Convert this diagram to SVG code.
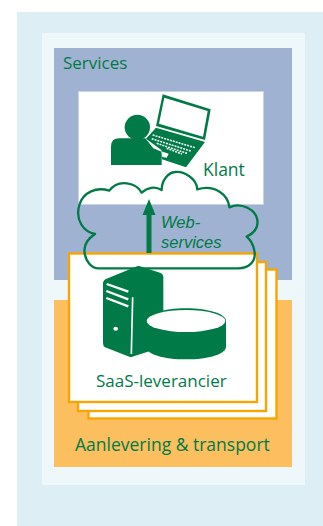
<svg xmlns="http://www.w3.org/2000/svg" width="323" height="526" viewBox="0 0 323 526">
<style>
text{font-family:"Open Sans","Noto Sans","Liberation Sans",sans-serif;fill:#007a47;font-size:17px}
.it{font-family:"Liberation Sans",Arial,sans-serif;font-size:16.500px;font-style:italic}
.card{fill:#fff;stroke:#f9a500;stroke-width:2.4}
.g{fill:#007a47}
.w{fill:#fff}
.k{fill:none;stroke:#fff;stroke-width:4.500;stroke-dasharray:6 3}
</style>
<rect width="323" height="526" fill="#fff"/>
<g id="background">
<rect x="17" y="12" width="306" height="514" fill="#ddeef5"/>
<rect x="42" y="33" width="263" height="452" fill="#eef7fa"/>
</g>
<g id="services">
<rect x="54" y="48" width="238" height="232" fill="#a0b2d2"/>
<text x="63" y="69">Services</text>
</g>
<g id="aanlevering">
<rect x="54" y="300" width="238" height="167" fill="#fbbf5f"/>
<text x="75" y="451" style="font-size:17.500px">Aanlevering &amp; transport</text>
</g>
<g id="klant">
<rect x="78.500" y="91.500" width="185" height="113" fill="#fff" stroke="#c9d3e6"/>
<g transform="translate(60 80) scale(.33333)">
<circle class="g" cx="232" cy="142" r="38"/>
<path class="g" d="M153 255V200Q153 175 178 175H256L280 205L305 215V255Z"/>
<path class="g" d="M308 43L452 88L435 180L288 138Z"/>
<path class="w" d="M313 53L443 93L429 170L297 131Z"/>
<path class="g" d="M288 143L435 186L378 262L306 238L304 210L258 176Z"/>
<path class="k" d="M278 165L405 203M275 176L392 213M290 190L381 220M320 205L366 222"/>
<path class="w" d="M304 214L326 221L320 233L307 231Z"/>
</g>
<text x="203" y="176" style="font-size:17.500px">Klant</text>
</g>
<g id="saas">
<rect class="card" x="88.500" y="269.500" width="188" height="149"/>
<rect class="card" x="78" y="262" width="188" height="149"/>
<rect class="card" x="69" y="253.500" width="188" height="148.500"/>
<g transform="translate(60 240) scale(.33333)">
<path class="g" d="M235 77L300 98Q310 102 310 112V320L212 352L135 322Q129 318 129 308V130Q129 122 136 118Z"/>
<path d="M140 132L205 155M139 153L205 178M139 174L205 199" stroke="#fff" stroke-width="7" fill="none"/>
<path d="M218 172L214 342" stroke="#fff" stroke-width="5" fill="none"/>
<ellipse class="w" cx="167" cy="266" rx="7" ry="6"/>
<path class="g" d="M258 243C258 222 310 205 378 205C445 205 498 222 498 243V320C498 342 445 358 378 358C310 358 258 342 258 320Z"/>
<ellipse class="w" cx="378" cy="243" rx="118" ry="33"/>
</g>
<text x="96" y="387">SaaS-leverancier</text>
</g>
<g id="connectors">
<path transform="translate(60 80) scale(.33333)" d="M115 565H535C565 565 590 545 583 512C580 495 572 480 560 470C585 458 595 440 592 420C588 390 545 365 508 382C505 345 465 312 412 328C410 295 370 272 345 276C325 278 305 300 305 330C285 318 262 322 245 338C230 308 175 295 148 332C110 320 70 335 58 375C45 420 70 455 105 462C85 475 70 495 74 520C78 545 95 565 115 565Z" fill="none" stroke="#007a47" stroke-width="7" stroke-linejoin="round"/>
<path d="M149 253V212" stroke="#007a47" stroke-width="5" fill="none"/>
<path class="g" d="M149 199L155.500 215H142.500Z"/>
</g>
<g id="webservices">
<text class="it"><tspan x="161" y="228">Web-</tspan><tspan x="161" y="247.500">services</tspan></text>
</g>
</svg>
